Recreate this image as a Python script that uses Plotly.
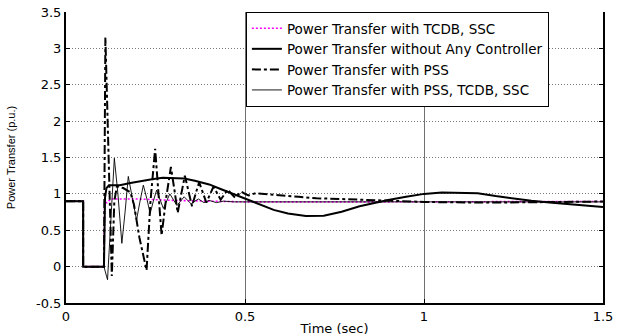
import plotly.graph_objects as go

# ---- data ----
# common pre-fault / fault step (time in s, power in p.u.)
t_pre = [0.0, 0.048, 0.048, 0.106]
v_pre = [0.9, 0.9, 0.0, 0.0]

# Power Transfer with TCDB, SSC (magenta dotted)
t_tcdb = [0.106, 0.108, 0.115, 0.125, 0.20, 0.30, 0.40, 0.50, 0.80, 1.10, 1.50]
v_tcdb = [0.0, 0.88, 0.88, 0.93, 0.93, 0.91, 0.895, 0.89, 0.89, 0.895, 0.895]

# Power Transfer without Any Controller (thick solid)
t_none = [0.109, 0.113, 0.12, 0.13, 0.15, 0.18, 0.21, 0.24, 0.27, 0.30, 0.33, 0.36,
          0.40, 0.43, 0.46, 0.50, 0.54, 0.58, 0.62, 0.67, 0.72, 0.77, 0.82, 0.86,
          0.90, 0.95, 1.00, 1.05, 1.10, 1.15, 1.20, 1.25, 1.30, 1.35, 1.40, 1.45, 1.50]
v_none = [0.95, 1.08, 1.12, 1.12, 1.12, 1.15, 1.18, 1.20, 1.22, 1.22, 1.21, 1.18,
          1.13, 1.07, 1.01, 0.93, 0.85, 0.78, 0.73, 0.695, 0.70, 0.755, 0.83, 0.875,
          0.915, 0.96, 1.00, 1.02, 1.02, 1.01, 0.97, 0.935, 0.905, 0.88, 0.855, 0.84, 0.82]

# Power Transfer with PSS (dash-dot)
t_pss = [0.106, 0.110, 0.128, 0.135, 0.142, 0.16, 0.18, 0.19, 0.205, 0.225, 0.236,
         0.249, 0.258, 0.267, 0.280, 0.293, 0.303, 0.312, 0.322, 0.332, 0.342, 0.352,
         0.362, 0.372, 0.382, 0.392, 0.402, 0.412, 0.422, 0.432, 0.442, 0.452, 0.462,
         0.472, 0.481, 0.490, 0.500, 0.510, 0.53, 0.56, 0.60, 0.65, 0.70, 0.75, 0.80,
         0.85, 0.90, 0.95, 1.00, 1.05, 1.10, 1.20, 1.30, 1.40, 1.50]
v_pss = [0.0, 3.15, -0.13, 0.90, 1.10, 1.08, 1.02, 0.85, 0.40, -0.05, 0.90,
         1.62, 1.00, 0.43, 0.95, 1.37, 1.05, 0.74, 1.00, 1.25, 1.04, 0.83,
         1.00, 1.16, 1.02, 0.88, 0.99, 1.10, 1.01, 0.92, 0.99, 1.06, 1.00,
         0.95, 0.99, 1.03, 1.00, 0.98, 1.01, 1.00, 0.98, 0.96, 0.94, 0.93, 0.92,
         0.91, 0.905, 0.90, 0.89, 0.885, 0.88, 0.88, 0.885, 0.89, 0.895]

# Power Transfer with PSS, TCDB, SSC (thin solid)
t_all = [0.106, 0.116, 0.125, 0.135, 0.145, 0.156, 0.165, 0.174, 0.185, 0.197,
         0.206, 0.216, 0.226, 0.235, 0.244, 0.253, 0.262, 0.272, 0.281, 0.290,
         0.300, 0.310, 0.320, 0.330, 0.340, 0.350, 0.360, 0.370, 0.385, 0.400,
         0.420, 0.440, 0.470, 0.50, 0.80, 1.10, 1.50]
v_all = [0.0, -0.18, 0.70, 1.49, 1.00, 0.32, 0.75, 1.24, 0.95, 0.64,
         0.88, 1.12, 0.93, 0.73, 0.90, 1.05, 0.93, 0.80, 0.90, 1.00,
         0.92, 0.84, 0.90, 0.96, 0.91, 0.86, 0.90, 0.93, 0.88, 0.91,
         0.88, 0.90, 0.89, 0.89, 0.89, 0.89, 0.89]

names = ["Power Transfer with TCDB, SSC",
         "Power Transfer without Any Controller",
         "Power Transfer with PSS",
         "Power Transfer with PSS, TCDB, SSC"]

x_ticks = [0, 0.5, 1, 1.5]
x_tick_text = ["0", "0.5", "1", "1.5"]
y_ticks = [-0.5, 0, 0.5, 1, 1.5, 2, 2.5, 3, 3.5]
y_tick_text = ["-0.5", "0", "0.5", "1", "1.5", "2", "2.5", "3", "3.5"]

FONT = "'DejaVu Sans', Arial, sans-serif"
NARROW = "'Liberation Sans Narrow', Arial, sans-serif"

fig = go.Figure()
fig.add_trace(go.Scatter(x=t_pre + t_tcdb, y=v_pre + v_tcdb, mode="lines", name=names[0],
                         line=dict(color="#ff00ff", width=1.6, dash="2px,2px")))
fig.add_trace(go.Scatter(x=t_pre + t_none, y=v_pre + v_none, mode="lines", name=names[1],
                         line=dict(color="black", width=2)))
fig.add_trace(go.Scatter(x=t_pre + t_pss, y=v_pre + v_pss, mode="lines", name=names[2],
                         line=dict(color="black", width=2, dash="dashdot")))
fig.add_trace(go.Scatter(x=t_pre + t_all, y=v_pre + v_all, mode="lines", name=names[3],
                         line=dict(color="black", width=0.9)))

fig.update_layout(
    width=621, height=336,
    margin=dict(l=66, r=18, t=12, b=33),
    paper_bgcolor="white", plot_bgcolor="white",
    font=dict(family=FONT, size=12, color="black"),
    showlegend=True,
    legend=dict(x=0.335, y=1.0, xanchor="left", yanchor="top",
                bgcolor="white", bordercolor="black", borderwidth=1,
                font=dict(family=FONT, size=13.5), tracegroupgap=0,
                itemwidth=30),
    xaxis=dict(range=[0, 1.5], tickvals=x_ticks, ticktext=x_tick_text,
               showgrid=True, gridcolor="#707070", gridwidth=1,
               showline=True, linecolor="black", linewidth=2,
               ticks="inside", ticklen=4, tickcolor="black",
               zeroline=False, mirror=False, ticklabelstandoff=0,
               automargin=False,
               title=dict(text="Time (sec)", font=dict(family=FONT, size=13), standoff=1),
               tickfont=dict(family=FONT, size=13)),
    yaxis=dict(range=[-0.5, 3.5], tickvals=y_ticks, ticktext=y_tick_text,
               showgrid=True, gridcolor="#7a7a7a", gridwidth=1, griddash="1px,2px",
               showline=True, linecolor="black", linewidth=2,
               ticks="inside", ticklen=4, tickcolor="black",
               zeroline=False, mirror="ticks", automargin=False,
               title=dict(text="Power Transfer (p.u.)",
                          font=dict(family=NARROW, size=11),
                          standoff=18),
               tickfont=dict(family=FONT, size=13)),
)

fig.write_html("out.html")
